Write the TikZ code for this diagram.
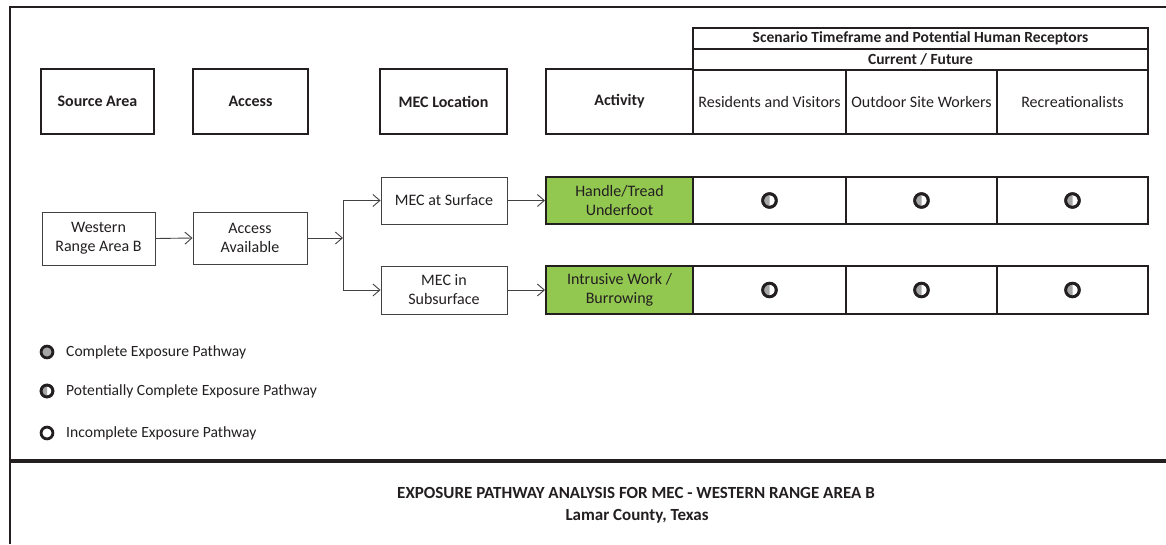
\documentclass[tikz,border=0pt]{standalone}
\usepackage{fontspec}
\setmainfont{Carlito}
\usetikzlibrary{arrows.meta}
\definecolor{ink}{HTML}{231F20}
\definecolor{grn}{HTML}{92C850}
\definecolor{dotgray}{HTML}{A6A6A6}
\tikzset{
  every node/.style={text=ink, font=\fontsize{16}{19}\selectfont, inner sep=0pt, align=center},
  hdrbox/.style={draw=ink, line width=2pt, font=\fontsize{16}{19}\selectfont\bfseries, minimum height=65pt},
  thinbox/.style={draw=ink!85, line width=0.9pt},
  cellbox/.style={draw=ink, line width=2pt},
  greenbox/.style={draw=ink, line width=2pt, fill=grn},
  conn/.style={draw=ink!85, line width=0.9pt},
  arr/.style={conn, -{Straight Barb[length=7pt,width=12pt]}},
  ring/.style={draw=ink, line width=2.8pt, fill=white},
  legtext/.style={anchor=west, font=\fontsize{15.6}{18}\selectfont},
  pot/.pic={
    \path[ring] (0,0) circle (#1);
    \fill[dotgray] (0,-#1+1.2pt) arc (270:90:#1-1.2pt) -- cycle;
    \draw[ink, line width=2.8pt] (0,0) circle (#1);
  },
  full/.pic={
    \path[ring, fill=dotgray] (0,0) circle (#1);
  },
  empty/.pic={
    \path[ring] (0,0) circle (#1);
  }
}
\begin{document}
\begin{tikzpicture}[x=1pt,y=-1pt]
\useasboundingbox (0,0) rectangle (1166,544);
% outer frame
\draw[ink, line width=2.5pt] (1166,7) -- (10,7) -- (10,544);
\draw[ink, line width=3.5pt] (10,461) -- (1166,461);

% header boxes
\node[hdrbox, minimum width=113pt] (src) at (97.5,101.5) {Source Area};
\node[hdrbox, minimum width=115pt] (acc) at (250.5,101.5) {Access};
\node[hdrbox, minimum width=127pt] (loc) at (443.5,101.5) {MEC Location};
\node[hdrbox, minimum width=147pt] (act) at (619.5,101.5) {Activity};

% receptor table header
\node[cellbox, minimum width=455pt, minimum height=21pt, font=\fontsize{15.5}{18}\selectfont\bfseries] (scen) at (920.5,38.5) {Scenario Timeframe and Potential Human Receptors};
\node[cellbox, minimum width=455pt, minimum height=21pt, font=\fontsize{15.5}{18}\selectfont\bfseries] (cf) at (920.5,59.5) {Current / Future};
\node[cellbox, minimum width=153pt, minimum height=64pt] (res) at (769.5,102) {Residents and Visitors};
\node[cellbox, minimum width=151pt, minimum height=64pt] (ows) at (921.5,102) {Outdoor Site Workers};
\node[cellbox, minimum width=151pt, minimum height=64pt] (rec) at (1072.5,102) {Recreationalists};

% flow boxes
\node[thinbox, minimum width=113pt, minimum height=53pt] (wr) at (98.5,238.5) {Western\\Range Area B};
\node[thinbox, minimum width=114pt, minimum height=52pt] (aa) at (250,238) {Access\\Available};
\node[thinbox, minimum width=126pt, minimum height=47pt] (ms) at (444,200.5) {MEC at Surface};
\node[thinbox, minimum width=126pt, minimum height=48pt] (msub) at (444,290) {MEC in\\Subsurface};

% activities
\node[greenbox, minimum width=147pt, minimum height=47pt] (ht) at (619.5,200.5) {Handle/Tread\\Underfoot};
\node[greenbox, minimum width=147pt, minimum height=48pt] (iw) at (619.5,290) {Intrusive Work /\\Burrowing};

% receptor cells
\node[cellbox, minimum width=153pt, minimum height=47pt] (r1a) at (769.5,200.5) {};
\node[cellbox, minimum width=151pt, minimum height=47pt] (r1b) at (921.5,200.5) {};
\node[cellbox, minimum width=151pt, minimum height=47pt] (r1c) at (1072.5,200.5) {};
\node[cellbox, minimum width=153pt, minimum height=48pt] (r2a) at (769.5,290) {};
\node[cellbox, minimum width=151pt, minimum height=48pt] (r2b) at (921.5,290) {};
\node[cellbox, minimum width=151pt, minimum height=48pt] (r2c) at (1072.5,290) {};

\pic at (r1a.center) {pot=6.8pt};
\pic at (r1b.center) {pot=6.8pt};
\pic at (r1c.center) {pot=6.8pt};
\pic at (r2a.center) {pot=6.8pt};
\pic at (r2b.center) {pot=6.8pt};
\pic at (r2c.center) {pot=6.8pt};

% connectors
\coordinate (j) at (343,238);
\coordinate (jt) at (343,200.5);
\coordinate (jb) at (343,290);
\draw[arr] (wr.east) -- (aa.west);
\draw[arr] (aa.east) -- (j);
\draw[conn] (jt) -- (jb);
\draw[arr] (jt) -- (ms.west);
\draw[arr] (jb) -- (msub.west);
\draw[arr] (ms.east) -- (ht.west);
\draw[arr] (msub.east) -- (iw.west);

% legend
\pic at (47,352) {full=5.9pt};
\pic at (47,391) {pot=5.9pt};
\pic at (47,433) {empty=5.9pt};
\node[legtext] (l1) at (66,352) {Complete Exposure Pathway};
\node[legtext] (l2) at (66,391) {Potentially Complete Exposure Pathway};
\node[legtext] (l3) at (66,433) {Incomplete Exposure Pathway};

% title
\node[font=\fontsize{17}{20}\selectfont\bfseries] (t1) at (636,493) {EXPOSURE PATHWAY ANALYSIS FOR MEC - WESTERN RANGE AREA B};
\node[font=\fontsize{17}{20}\selectfont\bfseries] (t2) at (637,516) {Lamar County, Texas};
\end{tikzpicture}
\end{document}
